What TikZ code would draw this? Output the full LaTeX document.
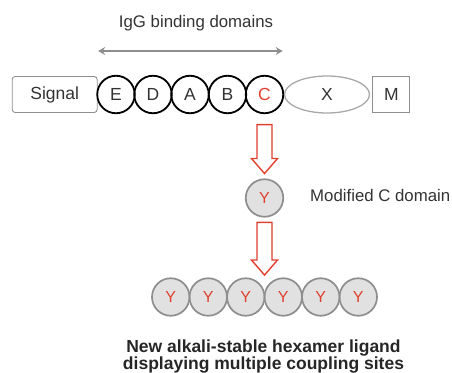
\documentclass[tikz,border=0pt]{standalone}
\usepackage{fontspec}
\setmainfont{Liberation Sans}
\usetikzlibrary{arrows.meta, calc, shapes.geometric, positioning}

\definecolor{domred}{HTML}{E0412F}
\definecolor{linegray}{HTML}{8E8E8E}
\definecolor{lightline}{HTML}{A8A8A8}
\definecolor{textgray}{HTML}{333333}
\definecolor{yfill}{HTML}{E1E1E1}

\tikzset{
  igg/.style={circle, draw=black, line width=1.8pt, minimum size=37.5pt,
    inner sep=0pt, font=\fontsize{17.5}{17.5}\selectfont, text=textgray},
  ydom/.style={circle, fill=yfill, minimum size=37.5pt, inner sep=0pt,
    font=\fontsize{16}{16}\selectfont, text=domred},
  ring/.style={draw=linegray, line width=1.7pt},
  plainbox/.style={draw=linegray, line width=0.9pt, minimum height=36pt,
    inner sep=0pt, font=\fontsize{17.5}{17.5}\selectfont, text=textgray},
  blockarrow/.style={draw=domred, line width=1.4pt, fill=white, line join=miter},
  label/.style={font=\fontsize{16.8}{16.8}\selectfont, text=textgray, inner sep=0pt}
}

% hollow block arrow pointing down from #1 to #2
\newcommand{\hollowarrow}[2]{%
  \draw[blockarrow] ($(#1)+(-7.5,0)$) -- ($(#2)+(-7.5,15)$) -- ($(#2)+(-13,15)$)
    -- (#2) -- ($(#2)+(13,15)$) -- ($(#2)+(7.5,15)$) -- ($(#1)+(7.5,0)$) -- cycle;}

\begin{document}
\begin{tikzpicture}[x=1pt, y=1pt]
  \useasboundingbox (0,0) rectangle (452,372);

  % Protein A gene
  \node[plainbox, rounded corners=3pt, minimum width=85pt] (sig) at (54.7,277.5) {Signal};
  \foreach \n/\x/\c in {E/116/textgray, D/153/textgray, A/190/textgray, B/227.5/textgray, C/264.5/domred}
    \node[igg, text=\c] (\n) at (\x,277.5) {\n};
  \node[ellipse, draw=lightline, line width=1.3pt, minimum width=85pt, minimum height=37pt,
    inner sep=0pt, font=\fontsize{17.5}{17.5}\selectfont, text=textgray] (X) at (327,277.5) {X};
  \node[plainbox, minimum width=37pt] (M) at (391.4,277.5) {M};

  % IgG binding domains
  \coordinate (iggl) at ($(E.west)+(1.8,43.5)$);
  \coordinate (iggr) at ($(C.east)+(-1.5,43.5)$);
  \draw[linegray, line width=1.5pt, {Stealth[length=7pt, width=8pt, inset=2.5pt]}-{Stealth[length=7pt, width=8pt, inset=2.5pt]}]
    (iggl) -- (iggr);
  \node[label] (igg) at (196,349) {IgG binding domains};

  % Modified C domain
  \node[ydom] (Y) at (264.5,174) {Y};
  \draw[ring] (Y.center) circle (18.75);
  \node[label, anchor=west] (mod) at (310,177) {Modified C domain};

  % Hexamer
  \foreach \i in {1,...,6}
    \node[ydom] (h\i) at ({264.5+(\i-3.5)*37.5},75) {Y};
  \foreach \i in {1,...,6}
    \draw[ring] (h\i.center) circle (18.75);

  % Arrows
  \coordinate (a1top) at ($(C.south)+(0,-10.5)$);
  \coordinate (a1tip) at ($(Y.north)+(0,5.5)$);
  \hollowarrow{a1top}{a1tip}
  \coordinate (a2top) at ($(Y.south)+(0,-5.5)$);
  \coordinate (a2tip) at ($(h3.north)!0.5!(h4.north)+(0,3)$);
  \hollowarrow{a2top}{a2tip}

  % Ligand text
  \node[font=\bfseries\fontsize{17.5}{17}\selectfont, text=black!85, align=center,
    inner sep=0pt, anchor=base] (lig) at (263.5,2.5)
    {New alkali-stable hexamer ligand\\displaying multiple coupling sites};
\end{tikzpicture}
\end{document}
